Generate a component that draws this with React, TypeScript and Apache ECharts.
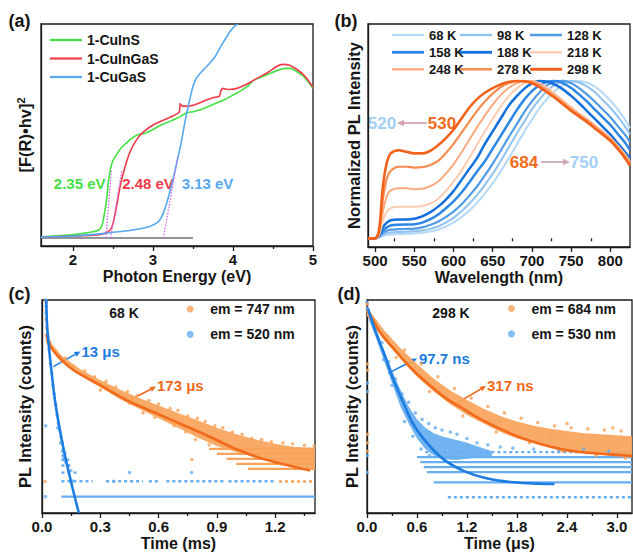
import React, { useEffect, useRef } from "react";
import * as echarts from "echarts";

const FONT = '"Liberation Sans", Arial, Helvetica, sans-serif';
const INK = "#151515";

// ---------------- (a) Tauc plot ----------------
const energyTicks = [2, 3, 4, 5];
const energyMinor = [2.5, 3.5, 4.5];
const cuInS = [
  [1.6, 0.042], [1.9, 0.048], [2.13, 0.057], [2.25, 0.064], [2.32, 0.072], [2.36, 0.09], [2.39, 0.14],
  [2.42, 0.21], [2.44, 0.28], [2.47, 0.35], [2.5, 0.385], [2.55, 0.415], [2.6, 0.44], [2.7, 0.475],
  [2.8, 0.5], [2.9, 0.508], [3.0, 0.525], [3.1, 0.545], [3.2, 0.56], [3.3, 0.575], [3.35, 0.585],
  [3.42, 0.6], [3.5, 0.605], [3.6, 0.615], [3.7, 0.63], [3.8, 0.645], [3.9, 0.66], [4.0, 0.68],
  [4.1, 0.7], [4.2, 0.725], [4.25, 0.745], [4.35, 0.76], [4.45, 0.775], [4.55, 0.79], [4.65, 0.8],
  [4.72, 0.8], [4.8, 0.785], [4.88, 0.765], [4.95, 0.735], [5.0, 0.71],
];
const cuInGaS = [
  [1.6, 0.04], [2.0, 0.045], [2.3, 0.05], [2.42, 0.06], [2.47, 0.075], [2.5, 0.1], [2.53, 0.15],
  [2.56, 0.21], [2.59, 0.27], [2.63, 0.33], [2.67, 0.38], [2.72, 0.43], [2.78, 0.47], [2.84, 0.5],
  [2.9, 0.52], [3.0, 0.545], [3.1, 0.562], [3.2, 0.578], [3.3, 0.595], [3.33, 0.605], [3.34, 0.64],
  [3.37, 0.63], [3.45, 0.63], [3.55, 0.64], [3.65, 0.655], [3.75, 0.668], [3.83, 0.675], [3.85, 0.7],
  [3.87, 0.71], [3.95, 0.705], [4.05, 0.71], [4.15, 0.725], [4.25, 0.745], [4.35, 0.765], [4.45, 0.785],
  [4.55, 0.81], [4.62, 0.818], [4.7, 0.815], [4.8, 0.795], [4.9, 0.765], [5.0, 0.715],
];
const cuGaS = [
  [1.6, 0.04], [2.0, 0.045], [2.4, 0.057], [2.6, 0.065], [2.75, 0.072], [2.9, 0.082], [3.0, 0.095],
  [3.07, 0.11], [3.12, 0.14], [3.16, 0.18], [3.2, 0.23], [3.25, 0.3], [3.3, 0.38], [3.35, 0.46],
  [3.4, 0.56], [3.45, 0.645], [3.5, 0.72], [3.55, 0.76], [3.62, 0.79], [3.7, 0.82], [3.78, 0.855],
  [3.84, 0.895], [3.9, 0.93], [3.96, 0.965], [4.02, 0.99], [4.06, 1.0],
];
const baselineA = [[1.6, 0.036], [3.5, 0.036]];
const tangentInS = [[2.41, 0.036], [2.48, 0.34]];
const tangentInGaS = [[2.47, 0.036], [2.61, 0.34]];
const tangentGaS = [[3.13, 0.036], [3.31, 0.4]];
const gapLabels = ["2.35 eV", "2.48 eV", "3.13 eV"];
const samplesA = ["1-CuInS", "1-CuInGaS", "1-CuGaS"];

// ---------------- (b) temperature-dependent PL ----------------
const wlTicks = [500, 550, 600, 650, 700, 750, 800];
const wlMinor = [525, 575, 625, 675, 725, 775];
const wavelengths = [491, 500, 505, 510, 515, 520, 530, 540, 550, 560, 570, 580, 590, 600, 610, 620, 630, 640, 650, 660, 670, 680, 690, 700, 710, 720, 730, 740, 750, 760, 770, 780, 790, 800, 810, 820, 825];
const tempNames = ["68 K", "98 K", "128 K", "158 K", "188 K", "218 K", "248 K", "278 K", "298 K"];
const pl68 = [0, 0, 0.005, 0.015, 0.022, 0.025, 0.027, 0.029, 0.031, 0.035, 0.043, 0.055, 0.075, 0.1, 0.135, 0.175, 0.225, 0.285, 0.35, 0.425, 0.505, 0.59, 0.675, 0.755, 0.83, 0.89, 0.94, 0.975, 0.995, 1.0, 0.99, 0.965, 0.925, 0.875, 0.815, 0.745, 0.7];
const pl98 = [0, 0, 0.008, 0.025, 0.033, 0.037, 0.04, 0.042, 0.045, 0.05, 0.06, 0.075, 0.1, 0.13, 0.17, 0.22, 0.275, 0.34, 0.41, 0.49, 0.575, 0.66, 0.74, 0.82, 0.885, 0.94, 0.978, 0.997, 1.0, 0.99, 0.965, 0.93, 0.88, 0.83, 0.77, 0.7, 0.66];
const pl128 = [0, 0, 0.01, 0.035, 0.048, 0.055, 0.058, 0.06, 0.062, 0.07, 0.085, 0.105, 0.135, 0.17, 0.215, 0.27, 0.33, 0.4, 0.475, 0.555, 0.64, 0.72, 0.8, 0.87, 0.93, 0.975, 0.997, 1.0, 0.985, 0.955, 0.915, 0.87, 0.82, 0.77, 0.71, 0.65, 0.61];
const pl158 = [0, 0, 0.015, 0.05, 0.07, 0.082, 0.087, 0.088, 0.09, 0.1, 0.12, 0.15, 0.19, 0.235, 0.29, 0.355, 0.425, 0.49, 0.57, 0.65, 0.73, 0.81, 0.88, 0.935, 0.975, 0.995, 1.0, 0.985, 0.955, 0.915, 0.87, 0.82, 0.77, 0.72, 0.66, 0.6, 0.56];
const pl188 = [0, 0, 0.02, 0.07, 0.1, 0.115, 0.12, 0.12, 0.125, 0.14, 0.165, 0.2, 0.245, 0.3, 0.37, 0.44, 0.51, 0.6, 0.68, 0.76, 0.84, 0.9, 0.95, 0.985, 1.0, 0.995, 0.975, 0.945, 0.905, 0.86, 0.81, 0.76, 0.71, 0.66, 0.6, 0.54, 0.51];
const pl218 = [0, 0, 0.02, 0.11, 0.17, 0.192, 0.2, 0.2, 0.2, 0.205, 0.22, 0.25, 0.3, 0.36, 0.43, 0.51, 0.595, 0.68, 0.76, 0.835, 0.9, 0.95, 0.985, 1.0, 0.985, 0.955, 0.915, 0.875, 0.835, 0.795, 0.76, 0.72, 0.68, 0.64, 0.585, 0.525, 0.485];
const pl248 = [0, 0, 0.03, 0.17, 0.27, 0.305, 0.318, 0.318, 0.312, 0.315, 0.33, 0.36, 0.41, 0.47, 0.545, 0.625, 0.705, 0.78, 0.85, 0.91, 0.955, 0.985, 0.998, 1.0, 0.98, 0.945, 0.905, 0.865, 0.825, 0.79, 0.755, 0.715, 0.675, 0.635, 0.58, 0.52, 0.48];
const pl278 = [0, 0, 0.04, 0.25, 0.38, 0.43, 0.455, 0.455, 0.45, 0.452, 0.465, 0.49, 0.54, 0.6, 0.67, 0.74, 0.81, 0.87, 0.92, 0.96, 0.985, 0.998, 1.0, 0.99, 0.965, 0.93, 0.895, 0.855, 0.815, 0.78, 0.745, 0.705, 0.665, 0.625, 0.57, 0.51, 0.47];
const pl298 = [0, 0, 0.05, 0.33, 0.48, 0.54, 0.56, 0.55, 0.54, 0.54, 0.555, 0.59, 0.635, 0.69, 0.76, 0.83, 0.885, 0.925, 0.955, 0.978, 0.993, 1.0, 0.998, 0.985, 0.96, 0.925, 0.89, 0.85, 0.81, 0.775, 0.74, 0.7, 0.66, 0.62, 0.565, 0.5, 0.46];
const plSets = [pl68, pl98, pl128, pl158, pl188, pl218, pl248, pl278, pl298];

// ---------------- (c) decay at 68 K (ms) ----------------
const msTicks = [0, 0.3, 0.6, 0.9, 1.2];
const msMinor = [0.15, 0.45, 0.75, 1.05, 1.35];
const fit747 = [[0.022, 0.84], [0.04, 0.79], [0.077, 0.741], [0.163, 0.67], [0.3, 0.6], [0.437, 0.529], [0.574, 0.474], [0.711, 0.419], [0.849, 0.364], [0.986, 0.305], [1.123, 0.258], [1.26, 0.225], [1.38, 0.2]];
const fit520 = [[0.022, 1.0], [0.026, 0.882], [0.038, 0.757], [0.051, 0.647], [0.068, 0.521], [0.094, 0.38], [0.12, 0.262], [0.146, 0.16], [0.171, 0.066], [0.19, 0.0]];
const band747Upper = [[0.02, 0.86], [0.05, 0.795], [0.1, 0.74], [0.2, 0.672], [0.3, 0.625], [0.4, 0.58], [0.5, 0.54], [0.6, 0.505], [0.7, 0.47], [0.8, 0.435], [0.9, 0.4], [1.0, 0.37], [1.1, 0.345], [1.2, 0.325], [1.3, 0.31], [1.405, 0.305]];
const band747Lower = [[0.02, 0.8], [0.05, 0.765], [0.1, 0.708], [0.2, 0.645], [0.3, 0.59], [0.4, 0.535], [0.5, 0.49], [0.6, 0.445], [0.7, 0.4], [0.8, 0.355], [0.9, 0.315], [1.0, 0.285], [1.1, 0.26], [1.2, 0.24], [1.3, 0.22], [1.405, 0.205]];
const pts747 = [[0.02, 0.99], [0.021, 0.95], [0.022, 0.91], [0.024, 0.87], [0.016, 0.148], [0.04, 0.8], [0.07, 0.762], [0.12, 0.728], [0.16, 0.69], [0.22, 0.668], [0.27, 0.64], [0.33, 0.618], [0.38, 0.592], [0.44, 0.57], [0.49, 0.552], [0.55, 0.528], [0.6, 0.512], [0.66, 0.49], [0.7, 0.482], [0.75, 0.455], [0.8, 0.445], [0.84, 0.43], [0.89, 0.41], [0.93, 0.4], [0.98, 0.38], [1.03, 0.37], [1.08, 0.35], [1.13, 0.345], [1.18, 0.335], [1.24, 0.33], [1.29, 0.325], [1.35, 0.318], [1.4, 0.315], [0.3, 0.578], [0.45, 0.515], [0.58, 0.45], [0.68, 0.41], [0.74, 0.38], [0.79, 0.345], [0.86, 0.32], [0.771, 0.251], [1.1, 0.3], [1.25, 0.28], [0.52, 0.47]];
const pts520 = [[0.02, 1.0], [0.021, 0.97], [0.022, 0.94], [0.023, 0.91], [0.019, 0.41], [0.018, 0.077], [0.03, 0.83], [0.036, 0.77], [0.044, 0.7], [0.05, 0.66], [0.056, 0.6], [0.062, 0.56], [0.07, 0.51], [0.077, 0.46], [0.084, 0.42], [0.09, 0.39], [0.097, 0.36], [0.104, 0.33], [0.11, 0.3], [0.118, 0.28], [0.126, 0.25], [0.134, 0.22], [0.08, 0.4], [0.095, 0.33], [0.105, 0.29], [0.112, 0.26], [0.12, 0.24], [0.45, 0.19], [0.77, 0.19], [0.37, 0.149], [0.148, 0.2], [0.16, 0.15]];
const rows520Dense = [[0.1, 1.405, 0.077]];
const rows520Sparse = [[0.1, 0.26, 0.149], [0.33, 0.52, 0.149], [0.55, 0.6, 0.149], [0.64, 0.94, 0.149], [0.96, 1.2, 0.149], [0.1, 0.19, 0.19], [0.1, 0.16, 0.223], [0.1, 0.14, 0.25], [0.1, 0.13, 0.27]];
const rows747Dense = [[0.86, 1.405, 0.301], [0.9, 1.405, 0.278], [0.95, 1.405, 0.254], [1.0, 1.405, 0.231], [1.06, 1.405, 0.207]];
const rows747Sparse = [[1.22, 1.405, 0.148]];

// ---------------- (d) decay at 298 K (µs) ----------------
const usTicks = [0, 0.6, 1.2, 1.8, 2.4, 3.0];
const usMinor = [0.3, 0.9, 1.5, 2.1, 2.7];
const fit684 = [[0.01, 0.95], [0.152, 0.851], [0.352, 0.757], [0.552, 0.67], [0.752, 0.6], [0.952, 0.537], [1.152, 0.49], [1.352, 0.443], [1.592, 0.396], [1.832, 0.356], [2.072, 0.325], [2.312, 0.301], [2.552, 0.286], [2.792, 0.278], [3.112, 0.27], [3.18, 0.268]];
const fit530 = [[0.01, 0.96], [0.112, 0.843], [0.212, 0.741], [0.312, 0.631], [0.432, 0.521], [0.552, 0.419], [0.712, 0.333], [0.912, 0.254], [1.152, 0.199], [1.432, 0.163], [1.752, 0.144], [2.072, 0.137], [2.25, 0.136]];
const band684Upper = [[0, 0.965], [0.2, 0.86], [0.4, 0.775], [0.6, 0.7], [0.8, 0.63], [1.0, 0.575], [1.2, 0.53], [1.4, 0.49], [1.6, 0.455], [1.8, 0.43], [2.0, 0.41], [2.2, 0.395], [2.4, 0.385], [2.6, 0.375], [2.8, 0.37], [3.0, 0.365], [3.18, 0.36]];
const band684Lower = [[0, 0.925], [0.2, 0.815], [0.4, 0.725], [0.6, 0.64], [0.8, 0.57], [1.0, 0.51], [1.2, 0.46], [1.4, 0.42], [1.6, 0.38], [1.8, 0.35], [2.0, 0.33], [2.2, 0.31], [2.4, 0.295], [2.6, 0.285], [2.8, 0.275], [3.0, 0.265], [3.18, 0.26]];
const band530Upper = [[0, 0.97], [0.1, 0.87], [0.2, 0.77], [0.3, 0.67], [0.4, 0.58], [0.5, 0.5], [0.6, 0.44], [0.7, 0.4], [0.8, 0.375], [0.9, 0.36], [1.0, 0.35], [1.1, 0.34], [1.2, 0.33], [1.35, 0.31], [1.5, 0.29]];
const band530Lower = [[0, 0.93], [0.1, 0.83], [0.2, 0.72], [0.3, 0.61], [0.4, 0.5], [0.5, 0.42], [0.6, 0.35], [0.7, 0.3], [0.8, 0.27], [0.9, 0.255], [1.0, 0.25], [1.1, 0.25], [1.2, 0.255], [1.35, 0.26], [1.5, 0.265]];
const pts684 = [[0.0, 0.98], [0.005, 0.95], [0.004, 0.7], [0.006, 0.67], [0.005, 0.37], [0.006, 0.33], [0.004, 0.29], [0.1, 0.9], [0.25, 0.83], [0.45, 0.765], [0.65, 0.7], [0.85, 0.64], [1.05, 0.585], [1.25, 0.54], [1.45, 0.5], [1.65, 0.47], [1.85, 0.445], [2.05, 0.425], [2.25, 0.41], [2.45, 0.4], [2.65, 0.395], [2.85, 0.39], [3.05, 0.385], [2.4, 0.42], [2.95, 0.4], [0.35, 0.73], [0.75, 0.57], [1.15, 0.455], [1.55, 0.38], [1.95, 0.33], [2.35, 0.29], [2.75, 0.27], [3.1, 0.258], [1.6, 0.425], [2.2, 0.37]];
const pts530 = [[0.0, 0.99], [0.005, 0.96], [0.005, 0.61], [0.006, 0.57], [0.005, 0.27], [0.004, 0.19], [0.1, 0.88], [0.18, 0.8], [0.26, 0.71], [0.34, 0.63], [0.42, 0.56], [0.5, 0.52], [0.58, 0.47], [0.66, 0.44], [0.74, 0.42], [0.82, 0.4], [0.9, 0.39], [1.0, 0.38], [1.08, 0.37], [1.2, 0.35], [1.32, 0.33], [1.45, 0.32], [1.6, 0.31], [1.75, 0.305], [2.0, 0.3], [2.3, 0.295], [2.6, 0.3], [2.9, 0.29], [0.45, 0.43], [0.55, 0.36], [0.65, 0.3], [0.75, 0.27], [0.2, 0.72], [0.3, 0.6]];
const rows530Dense = [[0.6, 3.18, 0.262], [0.64, 3.18, 0.239], [0.68, 3.18, 0.215], [0.72, 3.18, 0.192], [0.8, 3.18, 0.144]];
const rows530Sparse = [[0.97, 3.18, 0.074], [0.7, 3.18, 0.286]];

// ---------------- styles ----------------
const tempColors = ["#b5d8f7", "#8fc2f0", "#4f9be8", "#2b86e6", "#1470dc", "#fdcbb0", "#fbab7f", "#f78c4e", "#f2621a"];
const tempWidths = [2, 2, 2.2, 2.5, 2.5, 2, 2, 2.2, 2.6];
const colA = ["#44e044", "#ef3b4a", "#56a8f0"];
const ORANGE_PT = "#f9a35a";
const ORANGE_FIT = "#f26a1b";
const BLUE_PT = "#66aef0";
const BLUE_FIT = "#1c7ce0";
const LINE = { color: "#1a1a1a", width: 1.3 };

function majorX(grid: number, min: number, max: number, values: number[], fmt: (v: number) => string, name: string) {
  return {
    type: "value", gridIndex: grid, min, max, position: "bottom",
    axisLine: { show: true, onZero: false, lineStyle: LINE },
    axisTick: { show: true, inside: false, length: 5, lineStyle: LINE, customValues: values },
    axisLabel: { show: true, margin: 6, customValues: values, formatter: fmt, fontFamily: FONT, fontWeight: "bold", fontSize: 15, color: INK },
    splitLine: { show: false },
    name, nameLocation: "middle", nameGap: 22,
    nameTextStyle: { fontFamily: FONT, fontWeight: "bold", fontSize: 16, color: INK },
  };
}
function minorX(grid: number, min: number, max: number, values: number[]) {
  return {
    type: "value", gridIndex: grid, min, max, position: "bottom",
    axisLine: { show: false },
    axisTick: { show: true, inside: false, length: 3, lineStyle: LINE, customValues: values },
    axisLabel: { show: false }, splitLine: { show: false },
  };
}
function yAx(grid: number, min: number, max: number, name: string, gap: number) {
  return {
    type: "value", gridIndex: grid, min, max,
    axisLine: { show: true, onZero: false, lineStyle: LINE },
    axisTick: { show: false }, axisLabel: { show: false }, splitLine: { show: false },
    name, nameLocation: "middle", nameGap: gap,
    nameTextStyle: {
      fontFamily: FONT, fontWeight: "bold", fontSize: 16.5, color: INK, lineHeight: 20,
      rich: { s: { fontFamily: FONT, fontWeight: "bold", fontSize: 11, color: INK, lineHeight: 12, verticalAlign: "top" } },
    },
  };
}
function lineSeries(name: string, data: number[][], color: string, width: number, xi: number, yi: number, extra: any = {}) {
  return {
    type: "line", name, data, xAxisIndex: xi, yAxisIndex: yi, symbol: "none", showSymbol: false,
    lineStyle: { color, width }, itemStyle: { color }, ...extra,
  };
}
function bandSeries(name: string, upper: number[][], lower: number[][], color: string, xi: number, yi: number) {
  const poly = upper.concat(lower.slice().reverse());
  return {
    type: "custom", name, xAxisIndex: xi, yAxisIndex: yi, silent: true, clip: true,
    data: poly, encode: { x: 0, y: 1 },
    renderItem: (params: any, api: any) => {
      if (params.dataIndex !== 0) return { type: "group", children: [] };
      return { type: "polygon", shape: { points: poly.map((p) => api.coord(p)) }, style: { fill: color, opacity: 0.92 } };
    },
  };
}
function rowSeries(name: string, rows: number[][], color: string, dashed: boolean, xi: number, yi: number) {
  return {
    type: "custom", name, xAxisIndex: xi, yAxisIndex: yi, silent: true, clip: true,
    data: rows, encode: { x: [0, 1], y: 2 },
    renderItem: (params: any, api: any) => {
      const a = api.coord([api.value(0), api.value(2)]);
      const b = api.coord([api.value(1), api.value(2)]);
      return {
        type: "line", shape: { x1: a[0], y1: a[1], x2: b[0], y2: b[1] },
        style: { stroke: color, lineWidth: 2.3, lineDash: dashed ? [3, 3] : null },
      };
    },
  };
}
function scatterSeries(name: string, data: number[][], color: string, xi: number, yi: number) {
  return { type: "scatter", name, data, xAxisIndex: xi, yAxisIndex: yi, symbol: "circle", symbolSize: 3.5, itemStyle: { color } };
}
function txt(text: string, x: number, y: number, color: string, size: number, align = "center") {
  return {
    type: "text", x, y, silent: true,
    style: { text, fill: color, fontFamily: FONT, fontWeight: "bold", fontSize: size, align, verticalAlign: "middle", textAlign: align, textVerticalAlign: "middle" },
  };
}
function arrow(x1: number, y1: number, x2: number, y2: number, color: string, w = 1.5, head = 6) {
  const ang = Math.atan2(y2 - y1, x2 - x1);
  const bx = x2 - head * Math.cos(ang);
  const by = y2 - head * Math.sin(ang);
  const px = -Math.sin(ang) * head * 0.45;
  const py = Math.cos(ang) * head * 0.45;
  return [
    { type: "line", silent: true, shape: { x1, y1, x2: bx, y2: by }, style: { stroke: color, lineWidth: w } },
    { type: "polygon", silent: true, shape: { points: [[x2, y2], [bx + px, by + py], [bx - px, by - py]] }, style: { fill: color } },
  ];
}

function buildOption() {
  const gridBase = { show: true, borderColor: "#1a1a1a", borderWidth: 1.3, backgroundColor: "transparent" };
  const legText = { fontFamily: FONT, fontWeight: "bold", color: INK };

  const legends: any[] = [
    {
      data: samplesA, orient: "vertical", left: 50, top: 33, icon: "rect", itemWidth: 32, itemHeight: 2.2, itemGap: 4.5, padding: 0,
      textStyle: { ...legText, fontSize: 14, lineHeight: 14 },
    },
  ];
  const colX = [392, 460, 530];
  const rowY = [35, 52.3, 69.3];
  tempNames.forEach((n, i) => {
    legends.push({
      data: [n], left: colX[i % 3], top: rowY[Math.floor(i / 3)] - 7, icon: "rect", itemWidth: 32, itemHeight: tempWidths[i] + 0.3, padding: 0,
      textStyle: { ...legText, fontSize: 13, lineHeight: 14 },
    });
  });
  legends.push({
    data: ["em = 747 nm", "em = 520 nm"], orient: "vertical", left: 186.7, top: 302, icon: "circle",
    itemWidth: 30, itemHeight: 7, itemGap: 11.4, padding: 0, textStyle: { ...legText, fontSize: 14, lineHeight: 14 },
  });
  legends.push({
    data: ["em = 684 nm", "em = 530 nm"], orient: "vertical", left: 508, top: 301.5, icon: "circle",
    itemWidth: 30, itemHeight: 7, itemGap: 11.4, padding: 0, textStyle: { ...legText, fontSize: 14, lineHeight: 14 },
  });

  const dotted = (c: string) => ({ lineStyle: { color: c, width: 1.3, type: [1.5, 1.5] } });
  const series: any[] = [
    // (a)
    lineSeries("baseline", baselineA, "#707070", 1.6, 0, 0),
    lineSeries(samplesA[0], cuInS, colA[0], 1.6, 0, 0, { smooth: 0.2 }),
    lineSeries(samplesA[1], cuInGaS, colA[1], 1.6, 0, 0, { smooth: 0.2 }),
    lineSeries(samplesA[2], cuGaS, colA[2], 1.6, 0, 0, { smooth: 0.2 }),
    lineSeries("tangent1", tangentInS, "#cc66ee", 1.3, 0, 0, dotted("#cc66ee")),
    lineSeries("tangent2", tangentInGaS, "#cc66ee", 1.3, 0, 0, dotted("#cc66ee")),
    lineSeries("tangent3", tangentGaS, "#cc66ee", 1.3, 0, 0, dotted("#cc66ee")),
  ];
  // (b)
  tempNames.forEach((n, i) => {
    series.push(lineSeries(n, wavelengths.map((w, j) => [w, plSets[i][j]]), tempColors[i], tempWidths[i], 2, 1, { smooth: 0.3 }));
  });
  // (c)
  series.push(
    rowSeries("rows520d", rows520Dense, BLUE_PT, false, 4, 2),
    rowSeries("rows520s", rows520Sparse, BLUE_PT, true, 4, 2),
    bandSeries("band747", band747Upper, band747Lower, ORANGE_PT, 4, 2),
    rowSeries("rows747d", rows747Dense, ORANGE_PT, false, 4, 2),
    rowSeries("rows747s", rows747Sparse, ORANGE_PT, true, 4, 2),
    scatterSeries("em = 520 nm", pts520, BLUE_PT, 4, 2),
    scatterSeries("em = 747 nm", pts747, ORANGE_PT, 4, 2),
    lineSeries("fit747", fit747, ORANGE_FIT, 2.6, 4, 2, { smooth: 0.3 }),
    lineSeries("fit520", fit520, BLUE_FIT, 2.6, 4, 2, { smooth: 0.3 }),
  );
  // (d)
  series.push(
    rowSeries("rows530d", rows530Dense, BLUE_PT, false, 6, 3),
    rowSeries("rows530s", rows530Sparse, BLUE_PT, true, 6, 3),
    bandSeries("band530", band530Upper, band530Lower, BLUE_PT, 6, 3),
    bandSeries("band684", band684Upper, band684Lower, ORANGE_PT, 6, 3),
    scatterSeries("em = 530 nm", pts530, BLUE_PT, 6, 3),
    scatterSeries("em = 684 nm", pts684, ORANGE_PT, 6, 3),
    lineSeries("fit684", fit684, ORANGE_FIT, 2.6, 6, 3, { smooth: 0.3 }),
    lineSeries("fit530", fit530, BLUE_FIT, 2.6, 6, 3, { smooth: 0.3 }),
  );

  const graphic: any[] = [
    txt("(a)", 19.5, 21, INK, 18),
    txt("(b)", 346, 21, INK, 18),
    txt("(c)", 19.5, 294, INK, 18),
    txt("(d)", 349, 294, INK, 18),
    txt(gapLabels[0], 79.7, 183.3, colA[0], 15),
    txt(gapLabels[1], 148, 183.3, colA[1], 15),
    txt(gapLabels[2], 207.5, 183.3, colA[2], 15),
    txt("520", 382, 123, "#a3cff5", 17),
    txt("530", 442, 123, ORANGE_FIT, 17),
    ...arrow(427, 123, 397, 123, "#d4a4ae", 1.8, 7),
    txt("684", 524, 162, ORANGE_FIT, 17),
    ...arrow(541, 162, 570, 162, "#cca6b9", 1.8, 7),
    txt("750", 584, 162, "#a3cff5", 17),
    txt("68 K", 124, 313, INK, 14),
    txt("13 μs", 81.5, 351, BLUE_FIT, 15, "left"),
    ...arrow(53.3, 366.7, 80.5, 351.5, BLUE_FIT, 1.5, 6),
    txt("173 μs", 157, 385, ORANGE_FIT, 15, "left"),
    ...arrow(128.3, 401, 156, 386.5, ORANGE_FIT, 1.5, 6),
    txt("298 K", 451, 313, INK, 14),
    txt("97.7 ns", 419, 358.3, BLUE_FIT, 15, "left"),
    ...arrow(388, 373.3, 417, 358.5, BLUE_FIT, 1.5, 6),
    txt("317 ns", 487, 385.7, ORANGE_FIT, 15, "left"),
    ...arrow(456.3, 403.3, 486, 386, ORANGE_FIT, 1.5, 6),
  ];

  return {
    animation: false,
    backgroundColor: "#ffffff",
    textStyle: { fontFamily: FONT },
    grid: [
      { ...gridBase, left: 41, top: 24, width: 272, height: 222 },
      { ...gridBase, left: 368, top: 24, width: 262, height: 223 },
      { ...gridBase, left: 42, top: 300, width: 273, height: 213 },
      { ...gridBase, left: 367, top: 300, width: 265, height: 213 },
    ],
    xAxis: [
      majorX(0, 1.6, 5, energyTicks, (v: number) => String(v), "Photon Energy (eV)"),
      minorX(0, 1.6, 5, energyMinor),
      majorX(1, 491, 825, wlTicks, (v: number) => String(v), "Wavelength (nm)"),
      minorX(1, 491, 825, wlMinor),
      majorX(2, 0, 1.405, msTicks, (v: number) => v.toFixed(1), "Time (ms)"),
      minorX(2, 0, 1.405, msMinor),
      majorX(3, 0, 3.18, usTicks, (v: number) => v.toFixed(1), "Time (μs)"),
      minorX(3, 0, 3.18, usMinor),
    ],
    yAxis: [
      yAx(0, 0, 1, "[F(R)•hv]{s|2}", 6),
      yAx(1, -0.055, 1.362, "Normalized PL Intensity", 4.5),
      yAx(2, 0, 1, "PL Intensity (counts)", 7.5),
      yAx(3, 0, 1, "PL Intensity (counts)", 5.5),
    ],
    legend: legends,
    series,
    graphic,
  };
}

export default function App() {
  const ref = useRef<HTMLDivElement>(null);
  useEffect(() => {
    if (!ref.current) return;
    const chart = echarts.init(ref.current, null, { renderer: "svg" });
    chart.setOption(buildOption() as any);
    return () => chart.dispose();
  }, []);
  return <div ref={ref} style={{ position: "absolute", left: 0, top: 0, width: 633, height: 554, background: "#fff" }} />;
}
